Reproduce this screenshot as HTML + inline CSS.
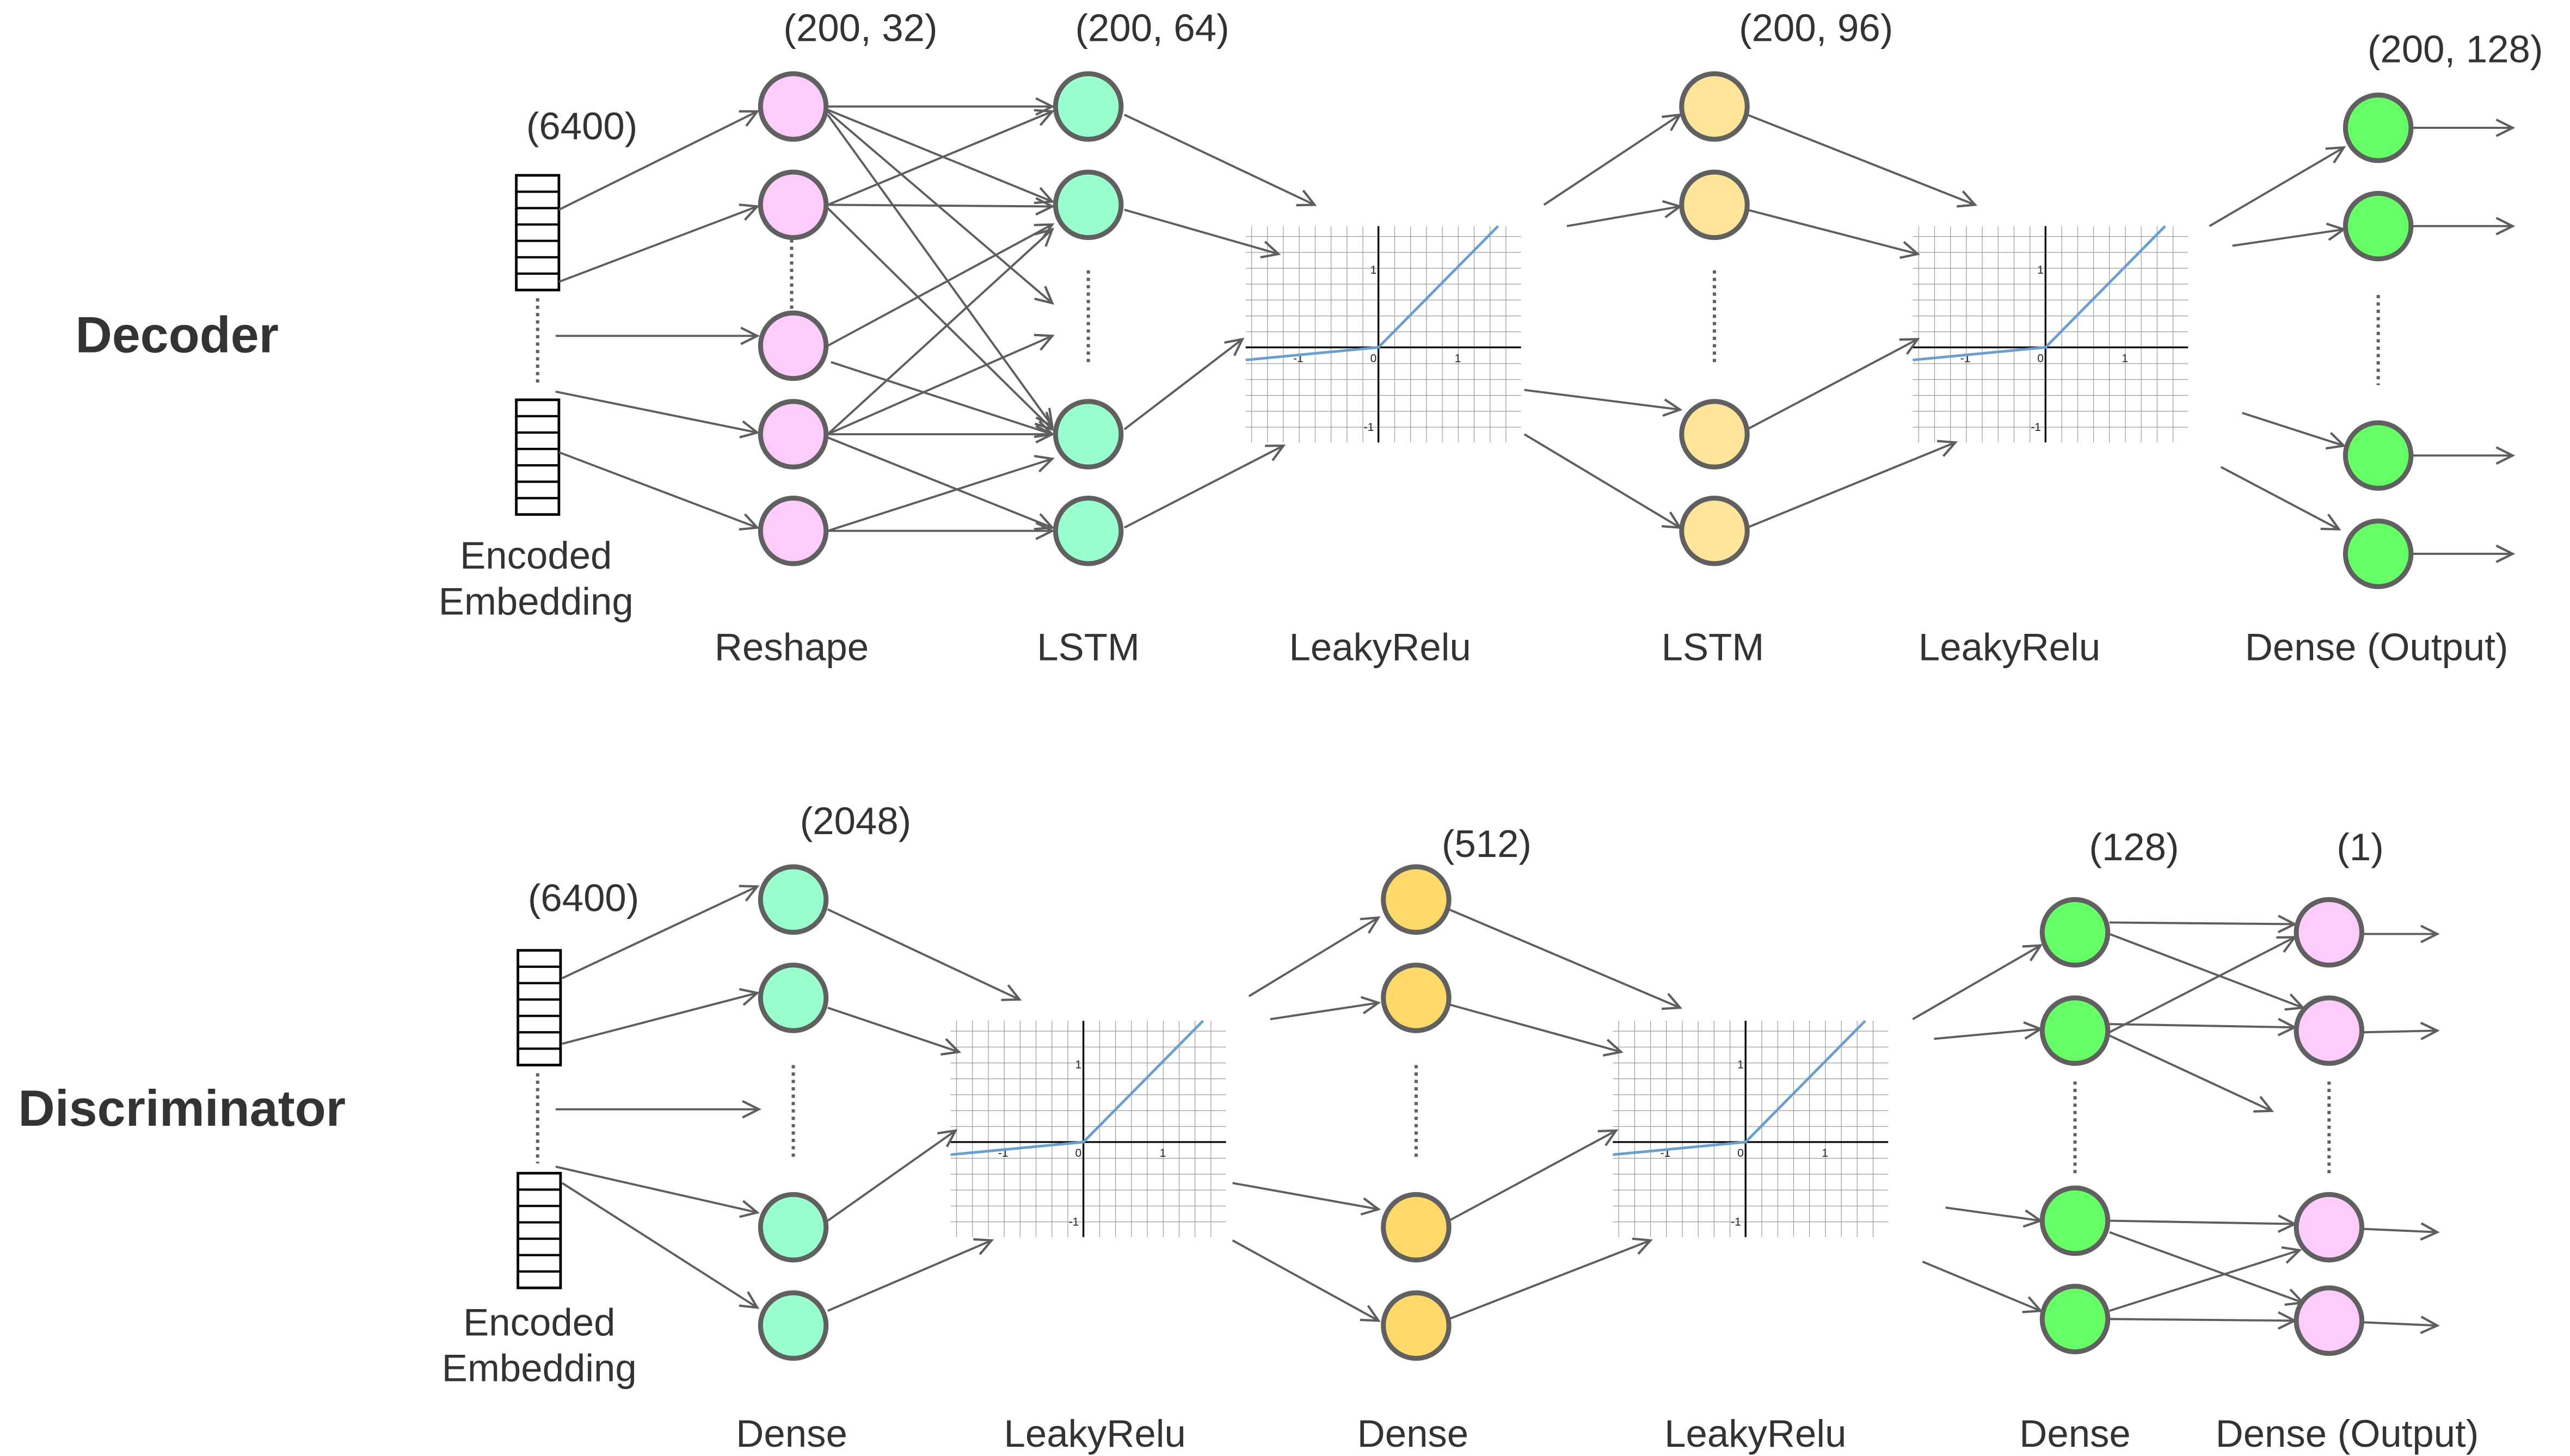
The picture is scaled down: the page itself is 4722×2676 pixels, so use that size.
<!DOCTYPE html>
<html><head><meta charset="utf-8"><style>
html,body{margin:0;padding:0;background:#fff}
svg{display:block}
text{font-family:"Liberation Sans",sans-serif;fill:#333}
</style></head><body>
<svg width="4722" height="2676" viewBox="0 0 1568 888.6" preserveAspectRatio="none" xmlns="http://www.w3.org/2000/svg">
<defs>
<marker id="a" markerUnits="userSpaceOnUse" markerWidth="14" markerHeight="14" refX="11" refY="6" orient="auto">
<path d="M1,1 L11,6 L1,11" fill="none" stroke="#5e5e5e" stroke-width="1.4"/>
</marker>
<pattern id="grid" patternUnits="userSpaceOnUse" x="0" y="0" width="9.7" height="9.7">
<path d="M0,0 V9.7 M0,0 H9.7" stroke="#999" stroke-width="0.8" fill="none"/>
</pattern>
<g id="chart">
<rect x="-81" y="-74" width="168" height="132" fill="url(#grid)"/>
<line x1="-81" y1="0" x2="87" y2="0" stroke="#000" stroke-width="1.1"/>
<line x1="0" y1="-74" x2="0" y2="58" stroke="#000" stroke-width="1.1"/>
<g style="font-size:7px">
<text x="-5" y="-45" style="fill:#222">1</text>
<text x="-5" y="9" style="fill:#222">0</text>
<text x="46.5" y="9" style="fill:#222">1</text>
<text x="-52" y="9" style="fill:#222">-1</text>
<text x="-9" y="51" style="fill:#222">-1</text>
</g>
<polyline points="-81,7.7 0,0 73,-74" fill="none" stroke="#6a9dd0" stroke-width="1.6"/>
</g>
<g id="emb">
<rect x="0" y="0" width="26" height="70" fill="#fff" stroke="#000" stroke-width="1.6"/>
<path d="M0,10H26M0,20H26M0,30H26M0,40H26M0,50H26M0,60H26" stroke="#000" stroke-width="1.4"/>
</g>
</defs>

<g style="font-size:23.5px;text-anchor:middle">
<text x="108" y="215" style="font-weight:bold;font-size:31px">Decoder</text>
<text x="111" y="687" style="font-weight:bold;font-size:31px">Discriminator</text>
<text x="355" y="85">(6400)</text>
<text x="525" y="25">(200, 32)</text>
<text x="703" y="25">(200, 64)</text>
<text x="1108" y="25">(200, 96)</text>
<text x="1498" y="38">(200, 128)</text>
<text x="327" y="347">Encoded</text>
<text x="327" y="375">Embedding</text>
<text x="483" y="403">Reshape</text>
<text x="664" y="403">LSTM</text>
<text x="842" y="403">LeakyRelu</text>
<text x="1045" y="403">LSTM</text>
<text x="1226" y="403">LeakyRelu</text>
<text x="1450" y="403">Dense (Output)</text>
<text x="356" y="556">(6400)</text>
<text x="522" y="509">(2048)</text>
<text x="907" y="523">(512)</text>
<text x="1302" y="525">(128)</text>
<text x="1440" y="525">(1)</text>
<text x="329" y="815">Encoded</text>
<text x="329" y="843">Embedding</text>
<text x="483" y="883">Dense</text>
<text x="668" y="883">LeakyRelu</text>
<text x="862" y="883">Dense</text>
<text x="1071" y="883">LeakyRelu</text>
<text x="1266" y="883">Dense</text>
<text x="1432" y="883">Dense (Output)</text>
</g>

<use href="#chart" x="841" y="212"/>
<use href="#chart" x="1248" y="212"/>
<use href="#chart" x="661" y="697"/>
<use href="#chart" x="1065" y="697"/>

<use href="#emb" x="315" y="107"/>
<use href="#emb" x="315" y="244"/>
<use href="#emb" x="316" y="580"/>
<use href="#emb" x="316" y="716"/>

<g stroke="#606060" stroke-width="2" stroke-dasharray="2,2.5" fill="none">
<line x1="328" y1="182" x2="328" y2="236"/>
<line x1="483" y1="146" x2="483" y2="190"/>
<line x1="664" y1="165" x2="664" y2="222"/>
<line x1="1046" y1="165" x2="1046" y2="222"/>
<line x1="1451" y1="180" x2="1451" y2="235"/>
<line x1="328" y1="655" x2="328" y2="710"/>
<line x1="484" y1="650" x2="484" y2="708"/>
<line x1="864" y1="650" x2="864" y2="708"/>
<line x1="1266" y1="660" x2="1266" y2="718"/>
<line x1="1421" y1="660" x2="1421" y2="718"/>
</g>

<g stroke="#5e5e5e" stroke-width="1.3" fill="none" marker-end="url(#a)">
<line x1="341" y1="128" x2="462" y2="68"/>
<line x1="341" y1="172" x2="462" y2="126"/>
<line x1="339" y1="205" x2="462" y2="205"/>
<line x1="339" y1="239" x2="462" y2="264"/>
<line x1="341" y1="276" x2="462" y2="322"/>
<line x1="505" y1="65" x2="642" y2="65"/>
<line x1="505" y1="67" x2="642" y2="123"/>
<line x1="505" y1="68" x2="642" y2="185"/>
<line x1="505" y1="70" x2="642" y2="260"/>
<line x1="505" y1="125" x2="642" y2="68"/>
<line x1="505" y1="125" x2="642" y2="126"/>
<line x1="505" y1="127" x2="642" y2="262"/>
<line x1="505" y1="211" x2="642" y2="137"/>
<line x1="507" y1="221" x2="642" y2="265"/>
<line x1="505" y1="265" x2="642" y2="205"/>
<line x1="505" y1="265" x2="642" y2="265"/>
<line x1="505" y1="267" x2="642" y2="322"/>
<line x1="505" y1="265" x2="642" y2="140"/>
<line x1="505" y1="324" x2="642" y2="280"/>
<line x1="505" y1="324" x2="642" y2="324"/>
<line x1="686" y1="70" x2="802" y2="125"/>
<line x1="686" y1="128" x2="780" y2="155"/>
<line x1="686" y1="262" x2="758" y2="207"/>
<line x1="686" y1="322" x2="783" y2="272"/>
<line x1="942" y1="125" x2="1025" y2="70"/>
<line x1="956" y1="138" x2="1025" y2="126"/>
<line x1="930" y1="238" x2="1025" y2="250"/>
<line x1="930" y1="265" x2="1025" y2="322"/>
<line x1="1066" y1="70" x2="1205" y2="125"/>
<line x1="1066" y1="128" x2="1170" y2="155"/>
<line x1="1066" y1="262" x2="1170" y2="207"/>
<line x1="1066" y1="322" x2="1193" y2="270"/>
<line x1="1348" y1="138" x2="1430" y2="90"/>
<line x1="1362" y1="150" x2="1430" y2="140"/>
<line x1="1368" y1="252" x2="1430" y2="272"/>
<line x1="1355" y1="285" x2="1427" y2="323"/>
<line x1="1472" y1="78" x2="1533" y2="78"/>
<line x1="1472" y1="138" x2="1533" y2="138"/>
<line x1="1472" y1="278" x2="1533" y2="278"/>
<line x1="1472" y1="338" x2="1533" y2="338"/>
<line x1="343" y1="597" x2="462" y2="541"/>
<line x1="343" y1="637" x2="462" y2="606"/>
<line x1="339" y1="677" x2="463" y2="677"/>
<line x1="339" y1="712" x2="462" y2="740"/>
<line x1="343" y1="722" x2="462" y2="798"/>
<line x1="505" y1="555" x2="622" y2="610"/>
<line x1="505" y1="615" x2="585" y2="642"/>
<line x1="505" y1="745" x2="583" y2="690"/>
<line x1="505" y1="800" x2="605" y2="757"/>
<line x1="762" y1="608" x2="841" y2="560"/>
<line x1="775" y1="622" x2="841" y2="612"/>
<line x1="752" y1="722" x2="841" y2="738"/>
<line x1="752" y1="757" x2="841" y2="806"/>
<line x1="884" y1="555" x2="1025" y2="615"/>
<line x1="884" y1="613" x2="989" y2="642"/>
<line x1="884" y1="745" x2="986" y2="690"/>
<line x1="884" y1="805" x2="1007" y2="757"/>
<line x1="1167" y1="622" x2="1245" y2="577"/>
<line x1="1180" y1="634" x2="1245" y2="628"/>
<line x1="1187" y1="737" x2="1245" y2="745"/>
<line x1="1173" y1="770" x2="1245" y2="800"/>
<line x1="1287" y1="563" x2="1400" y2="564"/>
<line x1="1287" y1="570" x2="1405" y2="615"/>
<line x1="1287" y1="630" x2="1400" y2="572"/>
<line x1="1287" y1="625" x2="1400" y2="627"/>
<line x1="1287" y1="632" x2="1386" y2="678"/>
<line x1="1287" y1="745" x2="1400" y2="747"/>
<line x1="1287" y1="752" x2="1405" y2="795"/>
<line x1="1287" y1="800" x2="1403" y2="763"/>
<line x1="1287" y1="805" x2="1400" y2="806"/>
<line x1="1442" y1="570" x2="1487" y2="570"/>
<line x1="1442" y1="630" x2="1487" y2="629"/>
<line x1="1442" y1="750" x2="1487" y2="752"/>
<line x1="1442" y1="807" x2="1487" y2="809"/>
</g>

<g stroke="#606060" stroke-width="3">
<g fill="#fdccfd">
<circle cx="484" cy="65" r="20"/><circle cx="484" cy="125" r="20"/><circle cx="484" cy="211" r="20"/><circle cx="484" cy="265" r="20"/><circle cx="484" cy="324" r="20"/>
<circle cx="1421" cy="569" r="20"/><circle cx="1421" cy="629" r="20"/><circle cx="1421" cy="749" r="20"/><circle cx="1421" cy="806" r="20"/>
</g>
<g fill="#99ffcc">
<circle cx="664" cy="65" r="20"/><circle cx="664" cy="125" r="20"/><circle cx="664" cy="265" r="20"/><circle cx="664" cy="324" r="20"/>
<circle cx="484" cy="549" r="20"/><circle cx="484" cy="609" r="20"/><circle cx="484" cy="749" r="20"/><circle cx="484" cy="809" r="20"/>
</g>
<g fill="#ffe599">
<circle cx="1046" cy="65" r="20"/><circle cx="1046" cy="125" r="20"/><circle cx="1046" cy="265" r="20"/><circle cx="1046" cy="324" r="20"/>
</g>
<g fill="#66ff66">
<circle cx="1451" cy="78" r="20"/><circle cx="1451" cy="138" r="20"/><circle cx="1451" cy="278" r="20"/><circle cx="1451" cy="338" r="20"/>
<circle cx="1266" cy="569" r="20"/><circle cx="1266" cy="629" r="20"/><circle cx="1266" cy="745" r="20"/><circle cx="1266" cy="805" r="20"/>
</g>
<g fill="#fdd96a">
<circle cx="864" cy="549" r="20"/><circle cx="864" cy="609" r="20"/><circle cx="864" cy="749" r="20"/><circle cx="864" cy="809" r="20"/>
</g>
</g>
</svg>
</body></html>
